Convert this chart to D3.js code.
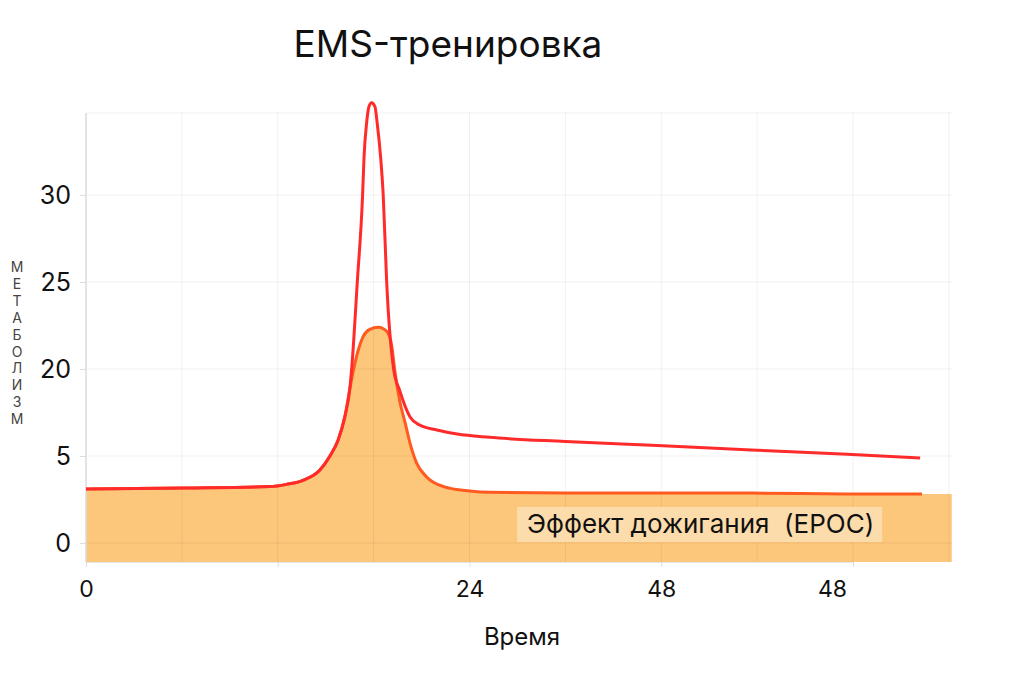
<!DOCTYPE html>
<html>
<head>
<meta charset="utf-8">
<script src="https://cdn.jsdelivr.net/npm/d3@7"></script>
<style>
  body { margin: 0; background: #fff; }
  text { font-family: Inter, "Noto Sans", sans-serif; }
</style>
</head>
<body>
<script>
// time axis in grid steps (one step = one vertical grid line)
const xTicks = [0, 2, 4, 6, 8];
const xTickLabels = ["0", "", "24", "48", "48"];
const yTicks = [0, 5, 20, 25, 30];
const yTickLabels = ["0", "5", "20", "25", "30"];

// lower curve (filled area) - ordinary training
const baseTime = [0, 1.03, 1.92, 2.09, 2.27, 2.44, 2.54, 2.63, 2.70, 2.75, 2.79, 2.84, 2.89, 2.96, 3.05, 3.14, 3.19, 3.22, 3.27, 3.33, 3.38, 3.45, 3.55, 3.73, 4.00, 4.21, 5.00, 5.96, 6.94, 7.94, 8.72, 9.03];
const baseValue = [3.10, 3.16, 3.24, 3.37, 3.62, 4.20, 4.96, 7.76, 11.78, 16.38, 19.83, 21.09, 21.86, 22.28, 22.40, 22.14, 21.28, 19.83, 14.66, 10.64, 7.19, 4.58, 3.81, 3.24, 2.99, 2.91, 2.87, 2.87, 2.87, 2.82, 2.82, 2.82];
const baseLineEnd = 8.72;

// upper curve - EMS training
const emsTime = [0, 1.03, 1.92, 2.09, 2.27, 2.44, 2.54, 2.63, 2.70, 2.75, 2.77, 2.83, 2.885, 2.90, 2.927, 2.951, 2.979, 3.014, 3.037, 3.073, 3.10, 3.136, 3.21, 3.27, 3.38, 3.48, 3.66, 3.87, 4.21, 5.00, 5.96, 6.94, 7.94, 8.70];
const emsValue = [3.10, 3.16, 3.24, 3.37, 3.62, 4.20, 4.96, 7.76, 11.78, 16.38, 19.83, 25.02, 30, 32.18, 34.14, 35.07, 35.30, 35.07, 34.14, 32.18, 30, 25.02, 19.83, 16.38, 11.72, 10.34, 9.48, 8.79, 8.22, 7.5, 6.8, 6.05, 5.3, 4.89];

const title = "EMS-тренировка";
const xTitle = "Время";
const yTitle = "МЕТАБОЛИЗМ";
const eposText = "Эффект дожигания  (EPOC)";

const W = 1024, H = 683;
const margin = { top: 113, right: 72, bottom: 121, left: 86 };
const width = W - margin.left - margin.right;
const height = H - margin.top - margin.bottom;

const svg = d3.select("body").append("svg").attr("width", W).attr("height", H);
const g = svg.append("g").attr("transform", "translate(" + margin.left + "," + margin.top + ")");

// x: grid steps, y: uneven label spacing so polylinear scale
const x = d3.scaleLinear().domain([0, 8]).range([0, 767]);
const y = d3.scaleLinear().domain(yTicks).range([430, 343, 256, 169, 82]);

const base = baseTime.map((t, i) => ({ t: t, v: baseValue[i] }));
const ems = emsTime.map((t, i) => ({ t: t, v: emsValue[i] }));

// filled area
g.append("path")
    .datum(base)
    .attr("fill", "#fdc77b")
    .attr("d", d3.area().curve(d3.curveMonotoneX).x(d => x(d.t)).y0(height).y1(d => y(d.v)));

// grid
const gridX = d3.range(0, 10);
g.selectAll(".vgrid").data(gridX).enter().append("line")
    .attr("x1", d => x(d)).attr("x2", d => x(d))
    .attr("y1", 0).attr("y2", height)
    .attr("stroke", "rgba(0,0,0,0.06)");
g.selectAll(".hgrid").data(yTicks.concat([y.invert(0)])).enter().append("line")
    .attr("x1", 0).attr("x2", width)
    .attr("y1", d => y(d)).attr("y2", d => y(d))
    .attr("stroke", "rgba(0,0,0,0.06)");

// axes
const yAxis = g.append("g").call(d3.axisLeft(y).tickValues(yTicks).tickSize(6).tickPadding(9).tickFormat((d, i) => yTickLabels[i]));
yAxis.select(".domain").remove();
yAxis.selectAll("line").attr("stroke", "#ddd");
yAxis.selectAll("text").attr("font-size", 25).attr("fill", "#111");
g.append("line").attr("x1", 0).attr("x2", 0).attr("y1", 0).attr("y2", height).attr("stroke", "#ddd").attr("stroke-width", 1.5);

const xAxis = g.append("g").attr("transform", "translate(0," + height + ")")
    .call(d3.axisBottom(x).tickValues(xTicks).tickSize(5).tickPadding(14).tickFormat((d, i) => xTickLabels[i]));
xAxis.select(".domain").attr("stroke", "#e6e6e6");
xAxis.selectAll("line").attr("stroke", "#ddd");
xAxis.selectAll("text").attr("font-size", 23).attr("fill", "#111");
xAxis.selectAll(".tick").filter((d, i) => i === 4).select("text").attr("dx", -21);

// curves
const line = d3.line().curve(d3.curveMonotoneX).x(d => x(d.t)).y(d => y(d.v));
g.append("path")
    .datum(base.filter(d => d.t <= baseLineEnd))
    .attr("fill", "none").attr("stroke", "#ff5a1f").attr("stroke-width", 3)
    .attr("d", line);
g.append("path")
    .datum(ems)
    .attr("fill", "none").attr("stroke", "#ff2b2b").attr("stroke-width", 3)
    .attr("stroke-linejoin", "round")
    .attr("d", line);

// EPOC label
const lab = g.append("g");
const labText = lab.append("text")
    .attr("x", x(4.6)).attr("y", y(0.55))
    .attr("font-size", 26).attr("fill", "#111")
    .style("white-space", "pre")
    .text(eposText);
const bb = labText.node().getBBox();
lab.insert("rect", "text")
    .attr("x", bb.x - 10).attr("y", y(2.07))
    .attr("width", bb.width + 18).attr("height", 35)
    .attr("fill", "#fcdcab");

// titles
svg.append("text").attr("x", 448).attr("y", 57).attr("text-anchor", "middle")
    .attr("font-size", 37).attr("fill", "#111")
    .text(title);
svg.append("text").attr("x", 522).attr("y", 645).attr("text-anchor", "middle")
    .attr("font-size", 24).attr("fill", "#111")
    .text(xTitle);

// vertical stacked letters for metabolism
svg.append("g").selectAll("text").data(yTitle.split("")).enter().append("text")
    .attr("x", 17).attr("y", (d, i) => 272 + i * 16.9)
    .attr("text-anchor", "middle")
    .attr("font-family", "'DejaVu Sans', sans-serif")
    .attr("font-size", 14).attr("fill", "#444")
    .text(d => d);
</script>
</body>
</html>
